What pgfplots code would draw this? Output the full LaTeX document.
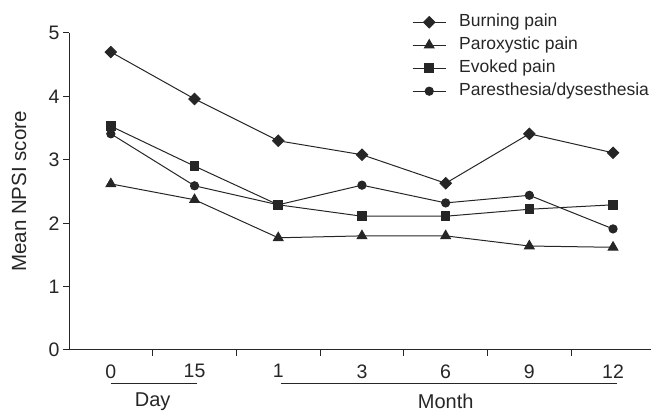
\documentclass[border=0pt]{standalone}
\usepackage{pgfplots}
\pgfplotsset{compat=1.18}
\usepackage{fontspec}
\setmainfont{Liberation Sans}
\begin{document}
\begin{tikzpicture}
\begin{axis}[
  name=ax,
  scale only axis,
  width=581.7pt, height=317pt,
  xmin=-0.5, xmax=6.45, ymin=0, ymax=5,
  axis lines=left,
  axis line style={-, line width=1pt, black!85},
  clip=false,
  xtick={0,1,2,3,4,5,6},
  xticklabels={0,15,1,3,6,9,12},
  minor xtick={0.5,1.5,2.5,3.5,4.5,5.5},
  ytick={0,1,2,3,4,5},
  tick align=outside,
  major tick length=6pt, minor tick length=6pt,
  major x tick style={draw=none},
  every tick/.style={line width=1pt, black!85},
  minor x tick style={line width=1pt, black!85},
  tick label style={font=\fontsize{19.5}{22}\selectfont, text=black!85},
  /pgf/number format/assume math mode=true,
  xticklabel style={yshift=-5pt},
  ylabel={Mean NPSI score},
  every axis y label/.style={at={(axis description cs:-0.086,0.5)}, rotate=90, anchor=center, font=\fontsize{20.5}{24}\selectfont, text=black!85},
  legend cell align=left,
  legend style={draw=none, fill=none, at={(axis description cs:0.5897,1)}, yshift=19pt, anchor=north west,
    inner sep=0pt, font=\fontsize{17.5}{20}\selectfont, text=black!85,
    nodes={inner sep=0pt, text height=12.5pt, text depth=3.5pt},
    row sep=7pt, column sep=13pt},
  legend image code/.code={\draw[mark repeat=2,mark phase=2] plot coordinates {(0pt,0pt) (16.5pt,0pt) (33pt,0pt)};},
  every axis plot/.append style={line width=1pt, black!85},
]
\addplot[mark=square*, mark size=4pt, mark options={rotate=45}] coordinates {(0,4.70) (1,3.96) (2,3.30) (3,3.08) (4,2.63) (5,3.41) (6,3.11)};
\addlegendentry{Burning pain}
\addplot[mark=triangle*, mark size=5.5pt] coordinates {(0,2.62) (1,2.37) (2,1.77) (3,1.80) (4,1.80) (5,1.64) (6,1.62)};
\addlegendentry{Paroxystic pain}
\addplot[mark=square*, mark size=4.3pt] coordinates {(0,3.53) (1,2.90) (2,2.29) (3,2.11) (4,2.11) (5,2.22) (6,2.29)};
\addlegendentry{Evoked pain}
\addplot[mark=*, mark size=4.1pt] coordinates {(0,3.41) (1,2.59) (2,2.29) (3,2.60) (4,2.32) (5,2.44) (6,1.91)};
\addlegendentry{Paresthesia/dysesthesia}
\draw[line width=1pt, black!85] ([yshift=-34pt]axis cs:0,0) -- ([yshift=-34pt]axis cs:1.03,0);
\draw[line width=1pt, black!85] ([yshift=-34pt]axis cs:2.03,0) -- ([yshift=-34pt]axis cs:6.05,0);
\node[font=\fontsize{20}{24}\selectfont, text=black!85] at ([yshift=-52pt]axis cs:0.5,0) {Day};
\node[font=\fontsize{20}{24}\selectfont, text=black!85] at ([yshift=-51pt]axis cs:4,0) {Month};
\end{axis}
\pgfresetboundingbox
\path (ax.south west) ++(-69pt,-61pt) rectangle ++(652pt,411pt);
\end{tikzpicture}
\end{document}
